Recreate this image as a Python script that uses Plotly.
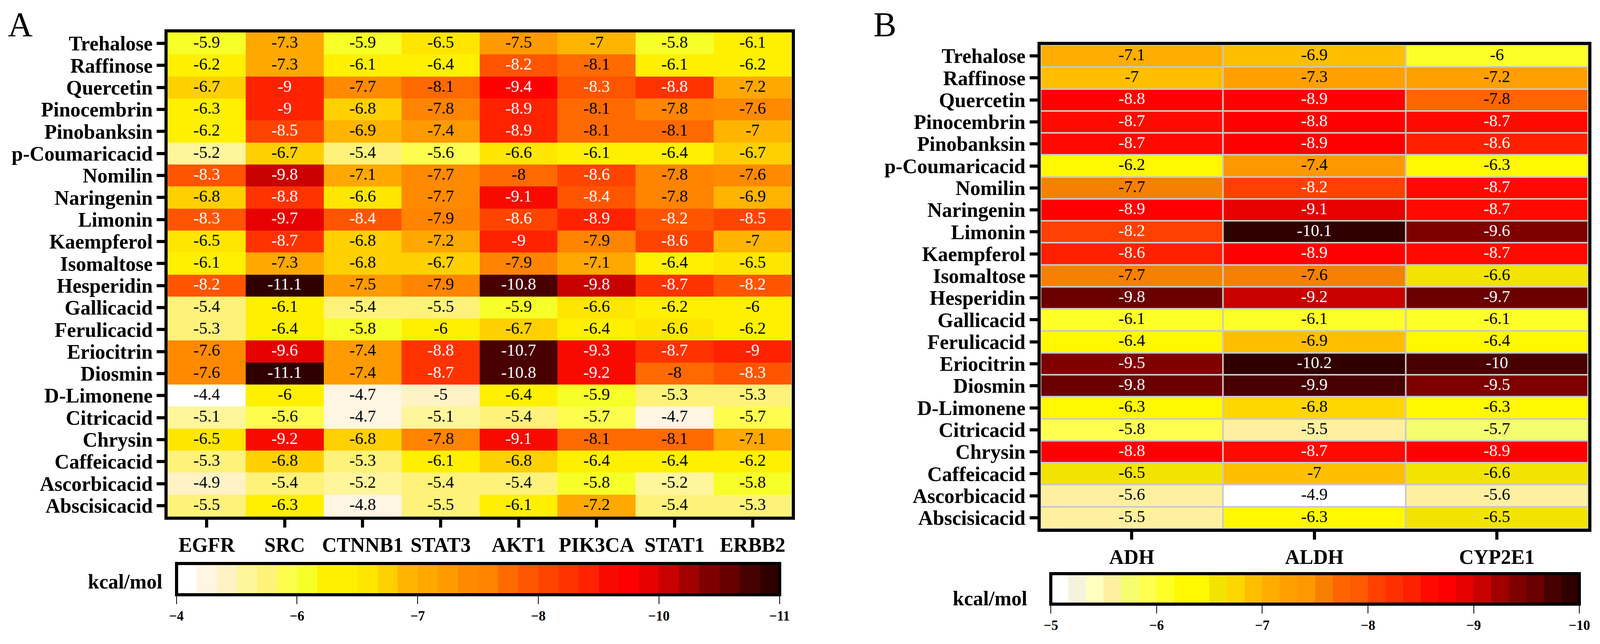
import numpy as np
import plotly.graph_objects as go

compounds = ["Trehalose", "Raffinose", "Quercetin", "Pinocembrin", "Pinobanksin", "p-Coumaricacid",
             "Nomilin", "Naringenin", "Limonin", "Kaempferol", "Isomaltose", "Hesperidin",
             "Gallicacid", "Ferulicacid", "Eriocitrin", "Diosmin", "D-Limonene", "Citricacid",
             "Chrysin", "Caffeicacid", "Ascorbicacid", "Abscisicacid"]

targets_a = ["EGFR", "SRC", "CTNNB1", "STAT3", "AKT1", "PIK3CA", "STAT1", "ERBB2"]
targets_b = ["ADH", "ALDH", "CYP2E1"]

# binding energies (kcal/mol), one row per compound
energy_a = [
    [-5.9, -7.3, -5.9, -6.5, -7.5, -7.0, -5.8, -6.1],
    [-6.2, -7.3, -6.1, -6.4, -8.2, -8.1, -6.1, -6.2],
    [-6.7, -9.0, -7.7, -8.1, -9.4, -8.3, -8.8, -7.2],
    [-6.3, -9.0, -6.8, -7.8, -8.9, -8.1, -7.8, -7.6],
    [-6.2, -8.5, -6.9, -7.4, -8.9, -8.1, -8.1, -7.0],
    [-5.2, -6.7, -5.4, -5.6, -6.6, -6.1, -6.4, -6.7],
    [-8.3, -9.8, -7.1, -7.7, -8.0, -8.6, -7.8, -7.6],
    [-6.8, -8.8, -6.6, -7.7, -9.1, -8.4, -7.8, -6.9],
    [-8.3, -9.7, -8.4, -7.9, -8.6, -8.9, -8.2, -8.5],
    [-6.5, -8.7, -6.8, -7.2, -9.0, -7.9, -8.6, -7.0],
    [-6.1, -7.3, -6.8, -6.7, -7.9, -7.1, -6.4, -6.5],
    [-8.2, -11.1, -7.5, -7.9, -10.8, -9.8, -8.7, -8.2],
    [-5.4, -6.1, -5.4, -5.5, -5.9, -6.6, -6.2, -6.0],
    [-5.3, -6.4, -5.8, -6.0, -6.7, -6.4, -6.6, -6.2],
    [-7.6, -9.6, -7.4, -8.8, -10.7, -9.3, -8.7, -9.0],
    [-7.6, -11.1, -7.4, -8.7, -10.8, -9.2, -8.0, -8.3],
    [-4.4, -6.0, -4.7, -5.0, -6.4, -5.9, -5.3, -5.3],
    [-5.1, -5.6, -4.7, -5.1, -5.4, -5.7, -4.7, -5.7],
    [-6.5, -9.2, -6.8, -7.8, -9.1, -8.1, -8.1, -7.1],
    [-5.3, -6.8, -5.3, -6.1, -6.8, -6.4, -6.4, -6.2],
    [-4.9, -5.4, -5.2, -5.4, -5.4, -5.8, -5.2, -5.8],
    [-5.5, -6.3, -4.8, -5.5, -6.1, -7.2, -5.4, -5.3],
]

energy_b = [
    [-7.1, -6.9, -6.0],
    [-7.0, -7.3, -7.2],
    [-8.8, -8.9, -7.8],
    [-8.7, -8.8, -8.7],
    [-8.7, -8.9, -8.6],
    [-6.2, -7.4, -6.3],
    [-7.7, -8.2, -8.7],
    [-8.9, -9.1, -8.7],
    [-8.2, -10.1, -9.6],
    [-8.6, -8.9, -8.7],
    [-7.7, -7.6, -6.6],
    [-9.8, -9.2, -9.7],
    [-6.1, -6.1, -6.1],
    [-6.4, -6.9, -6.4],
    [-9.5, -10.2, -10.0],
    [-9.8, -9.9, -9.5],
    [-6.3, -6.8, -6.3],
    [-5.8, -5.5, -5.7],
    [-8.8, -8.7, -8.9],
    [-6.5, -7.0, -6.6],
    [-5.6, -4.9, -5.6],
    [-5.5, -6.3, -6.5],
]

cbar_a_labels = ["\u22124", "\u22126", "\u22127", "\u22128", "\u221210", "\u221211"]
cbar_b_labels = ["\u22125", "\u22126", "\u22127", "\u22128", "\u22129", "\u221210"]

# stepped palettes (weakest -> strongest)
pal_a = ["#ffffff", "#fff5e3", "#fff2c5", "#fff59b", "#fef27a", "#fdfd4e", "#f7ff28", "#fff000",
         "#fff000", "#ffe600", "#ffd000", "#ffb400", "#ffa800", "#ff9a00", "#ff8a00", "#ff8400",
         "#ff6a00", "#ff5500", "#ff4400", "#ff3300", "#ff2200", "#f80a00", "#ff0000", "#e60000",
         "#c80000", "#a00000", "#800000", "#680000", "#480000", "#300000"]
pal_b = ["#ffffff", "#f5f3dc", "#ffffc0", "#fff0a0", "#f3fd6e", "#ffff50", "#ffff28", "#fff800",
         "#fff800", "#f2e400", "#ffd700", "#ffbf00", "#ffad00", "#ffa000", "#ff9800", "#f88000",
         "#ff6400", "#ff5a00", "#ff4000", "#ff3000", "#ff2000", "#ff0a00", "#ff0000", "#e60000",
         "#c80000", "#a00000", "#800000", "#6a0000", "#480000", "#300000"]

SERIF = "Liberation Serif"
W, H = 4198, 1648


def steps(pal):
    n = len(pal)
    cs = []
    for i, c in enumerate(pal):
        cs.append([i / n, c])
        cs.append([(i + 1) / n, c])
    return cs


def panel(energy, targets, pal, labels, xa, ya, cb_x0, cb_x1, cb_y, cb_thick, gap):
    # colour by binding strength so white sits at the weak end of the bar
    strength = [[-v for v in row] for row in energy]
    zmin = min(min(r) for r in strength)
    zmax = max(max(r) for r in strength)
    hm = go.Heatmap(
        z=strength, x=targets, y=compounds, xaxis=xa, yaxis=ya,
        colorscale=steps(pal), zmin=zmin, zmax=zmax, xgap=gap, ygap=gap,
        hoverinfo="skip",
        colorbar=dict(
            orientation="h", x=(cb_x0 + cb_x1) / 2 / W, xanchor="center", y=cb_y, yanchor="top",
            len=(cb_x1 - cb_x0) / W, lenmode="fraction", thickness=cb_thick, thicknessmode="pixels",
            xpad=0, ypad=0, outlinewidth=8, outlinecolor="black",
            ticks="outside", ticklen=20, tickwidth=2, tickcolor="black",
            tickvals=list(np.linspace(zmin, zmax, len(labels))), ticktext=labels,
            tickfont=dict(family=SERIF, size=35, color="black", weight="bold"),
        ),
    )
    xs, ys, txt, col = [], [], [], []
    for name, row in zip(compounds, energy):
        for t, v in zip(targets, row):
            xs.append(t)
            ys.append(name)
            txt.append(f"{v:g}")
            col.append("white" if v <= -8.15 else "black")
    tx = go.Scatter(x=xs, y=ys, text=txt, mode="text", xaxis=xa, yaxis=ya,
                    textposition="middle center", hoverinfo="skip", showlegend=False,
                    cliponaxis=False,
                    textfont=dict(family=SERIF, size=43, color=col))
    return [hm, tx]


fig = go.Figure()
for tr in panel(energy_a, targets_a, pal_a, cbar_a_labels, "x", "y",
                463, 2045, 1 - 1442 / H, 80, 0):
    fig.add_trace(tr)
for tr in panel(energy_b, targets_b, pal_b, cbar_b_labels, "x2", "y2",
                2757, 4144, 1 - 1468 / H, 78, 4):
    fig.add_trace(tr)

ax_common = dict(type="category", showline=True, linewidth=8, linecolor="black", mirror=True,
                 ticks="outside", ticklen=20, tickwidth=8, tickcolor="black",
                 showgrid=False, zeroline=False, automargin=False, tickmode="array",
                 tickfont=dict(family=SERIF, size=52, color="black", weight="bold"))

fig.update_layout(
    template="none",
    width=W, height=H, margin=dict(l=0, r=0, t=0, b=0, autoexpand=False),
    paper_bgcolor="white", plot_bgcolor="#c8c8c8",
    xaxis=dict(domain=[440 / W, 2077 / W], anchor="y", tickvals=targets_a,
               range=[-0.5, len(targets_a) - 0.5], **ax_common),
    yaxis=dict(domain=[1 - 1322 / H, 1 - 83 / H], anchor="x", tickvals=compounds,
               range=[len(compounds) - 0.5, -0.5], **ax_common),
    xaxis2=dict(domain=[2730 / W, 4167 / W], anchor="y2", tickvals=targets_b,
                range=[-0.5, len(targets_b) - 0.5], **ax_common),
    yaxis2=dict(domain=[1 - 1353 / H, 1 - 115 / H], anchor="x2", tickvals=compounds,
                range=[len(compounds) - 0.5, -0.5], **ax_common),
    showlegend=False,
)

for txt, x, y in [("A", 18 / W, 1 - 62 / H), ("B", 2290 / W, 1 - 62 / H)]:
    fig.add_annotation(text=txt, x=x, y=y, xref="paper", yref="paper", xanchor="left", yanchor="middle",
                       showarrow=False, font=dict(family=SERIF, size=88, color="black"))
for x, y in [(428 / W, 1 - 1488 / H), (2698 / W, 1 - 1531 / H)]:
    fig.add_annotation(text="kcal/mol", x=x, y=y, xref="paper", yref="paper", xanchor="right",
                       yanchor="middle", showarrow=False,
                       font=dict(family=SERIF, size=52, color="black", weight="bold"))

# no page margin, and fit the figure to whatever width the window really shows
fit_js = ("document.body.style.margin='0';"
          "var gd=document.getElementById('{plot_id}');"
          "if(window.innerWidth && window.innerWidth<%d){Plotly.relayout(gd,{width:window.innerWidth});}" % W)
fig.write_html("out.html", config={"displayModeBar": False}, post_script=fit_js)
